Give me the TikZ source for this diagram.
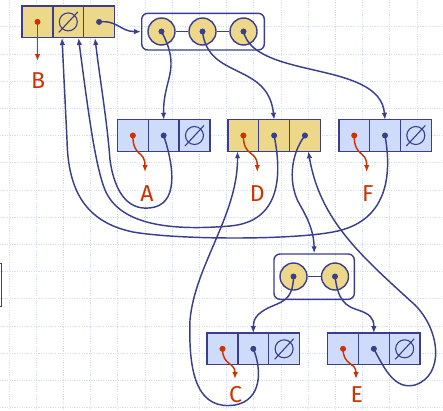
\documentclass[tikz,border=0pt]{standalone}
\usepackage{fontspec}
\setsansfont{Fira Sans}
\usetikzlibrary{arrows.meta}
\definecolor{inkblue}{RGB}{58,62,140}
\definecolor{keyred}{RGB}{204,51,0}
\definecolor{cellyellow}{RGB}{236,216,136}
\definecolor{cellblue}{RGB}{206,219,250}
\definecolor{gridblue}{RGB}{212,222,246}
\begin{document}
\begin{tikzpicture}[x=1pt,y=-1pt,
  cell/.style={rectangle, draw=inkblue, line width=1.4pt, minimum width=30.8pt,
    minimum height=31.5pt, inner sep=0pt, outer sep=0pt},
  ycell/.style={cell, fill=cellyellow},
  bcell/.style={cell, fill=cellblue},
  ptr/.style={circle, fill=inkblue, inner sep=0pt, minimum size=5.6pt},
  rptr/.style={ptr, fill=keyred},
  slot/.style={circle, draw=inkblue, fill=cellyellow, line width=1.4pt,
    minimum size=27pt, inner sep=0pt},
  holder/.style={rectangle, draw=inkblue, line width=1.4pt, rounded corners=6pt,
    inner sep=0pt},
  rail/.style={draw=inkblue, line width=1.4pt},
  link/.style={draw=inkblue, line width=1.45pt, -{Latex[length=7pt,width=5.5pt]}},
  keylink/.style={draw=keyred, line width=1.45pt, -{Latex[length=7pt,width=5.5pt]}},
  lbl/.style={text=keyred, font=\sffamily\fontsize{23}{27}\selectfont, anchor=base,
    inner sep=0pt},
  gridline/.style={gridblue, line width=0.8pt, dash pattern=on 1.2pt off 1.2pt},
  nullset/.pic={\draw[inkblue, line width=1.1pt] (0,0) circle (9pt)
    (-9.5pt,-10.5pt) -- (9.5pt,10pt);}
]
\useasboundingbox (0,0) rectangle (443,410);
\clip (0,0) rectangle (443,410);
\fill[white] (0,0) rectangle (443,410);

% background grid
\foreach \k in {0,...,16} \draw[gridline] (9+27.2*\k,0) -- (9+27.2*\k,410);
\foreach \k in {1,...,15} \draw[gridline] (0,-0.5+27.2*\k) -- (443,-0.5+27.2*\k);

% box cut off at the left edge
\draw[rail] (-20,263.5) rectangle (1.4,306.5);

% array of three slots
\node[holder, minimum width=122.6pt, minimum height=36.7pt] (T) at (203,31.65) {};
\node[slot] (T1) at (161.5,31.5) {};
\node[slot] (T2) at (202.5,31.5) {};
\node[slot] (T3) at (243.5,31.5) {};
\draw[rail] (T1) -- (T2) (T2) -- (T3);

% array of two slots
\node[holder, minimum width=80.3pt, minimum height=45.3pt] (S) at (314.15,276.65) {};
\node[slot] (S1) at (293.5,276.5) {};
\node[slot] (S2) at (335,276.5) {};
\draw[rail] (S1) -- (S2);

% list cells
\node[ycell] (B1) at (37.5,21.9) {};
\node[ycell] (B2) at (68.3,21.9) {};
\node[ycell] (B3) at (99.1,21.9) {};

\node[bcell] (A1) at (132.85,135.5) {};
\node[bcell] (A2) at (163.65,135.5) {};
\node[bcell] (A3) at (194.45,135.5) {};

\node[ycell] (D1) at (243.35,135.5) {};
\node[ycell] (D2) at (274.15,135.5) {};
\node[ycell] (D3) at (304.95,135.5) {};

\node[bcell] (F1) at (354.2,135.5) {};
\node[bcell] (F2) at (385,135.5) {};
\node[bcell] (F3) at (415.8,135.5) {};

\node[bcell] (C1) at (222.5,348.8) {};
\node[bcell] (C2) at (253.3,348.8) {};
\node[bcell] (C3) at (284.1,348.8) {};

\node[bcell] (E1) at (343.05,348.8) {};
\node[bcell] (E2) at (373.85,348.8) {};
\node[bcell] (E3) at (404.65,348.8) {};

% null pointers
\pic at (B2) {nullset};
\pic at (A3) {nullset};
\pic at (F3) {nullset};
\pic at (C3) {nullset};
\pic at (E3) {nullset};

% labels
\node[lbl] (lB) at (38,88.5) {B};
\node[lbl] (lA) at (147,201) {A};
\node[lbl] (lD) at (257.3,201) {D};
\node[lbl] (lF) at (367.8,201) {F};
\node[lbl] (lC) at (235.5,402) {C};
\node[lbl] (lE) at (356.7,402) {E};

% arrow ends
\coordinate (Bin1) at (62,38);
\coordinate (Bin2) at (78.5,38);
\coordinate (Bin3) at (95,38);
\coordinate (Din1) at (237.5,151.2);
\coordinate (Din3) at (308.3,151.2);
\coordinate (kB) at (37.5,61);
\coordinate (kA) at (145,172);
\coordinate (kD) at (257.3,172);
\coordinate (kF) at (366.7,172);
\coordinate (kC) at (235,379);
\coordinate (kE) at (356,379);

% pointer dots
\foreach \n in {B3,A2,D2,D3,F2,C2,E2,T1,T2,T3,S1,S2} \node[ptr] (p\n) at (\n) {};
\foreach \n in {B1,A1,D1,F1,C1,E1} \node[rptr] (p\n) at (\n) {};

% pointers
\draw[link] (pB3.center) .. controls (118,20) and (120,31.5) .. (T.west);
\draw[link] (pT1.center) .. controls (182,70) and (163,78) .. (A2.north);
\draw[link] (pT2.center) .. controls (208,80) and (268,62) .. (D2.north);
\draw[link] (pT3.center) .. controls (255,80) and (380,60) .. (F2.north);
\draw[link] (pA2.center) .. controls (172,160) and (180,200) .. (155,207)
  .. controls (130,213) and (115,195) .. (110,160)
  .. controls (107,120) and (100,80) .. (Bin3);
\draw[link] (pD2.center) .. controls (284,185) and (275,222) .. (230,226)
  .. controls (170,231) and (120,225) .. (105,190)
  .. controls (95,165) and (88,110) .. (Bin2);
\draw[link] (pF2.center) .. controls (392,175) and (388,222) .. (333,232)
  .. controls (290,240) and (180,240) .. (133,232)
  .. controls (85,222) and (68,190) .. (67,140) -- (Bin1);
\draw[link] (pC2.center) .. controls (262,370) and (262,400) .. (235,405)
  .. controls (200,410) and (188,380) .. (190,320)
  .. controls (195,265) and (238,215) .. (Din1);
\draw[link] (pD3.center) .. controls (290,155) and (288,185) .. (300,205)
  .. controls (310,222) and (314,235) .. (S.north);
\draw[link] (pE2.center) .. controls (385,370) and (395,390) .. (415,385)
  .. controls (445,375) and (440,330) .. (415,305)
  .. controls (360,255) and (320,220) .. (Din3);
\draw[link] (pS1.center) .. controls (293,302) and (280,302) .. (268,308)
  .. controls (256,314) and (253.3,320) .. (C2.north);
\draw[link] (pS2.center) .. controls (338,300) and (345,306) .. (358,310)
  .. controls (370,314) and (373.85,318) .. (E2.north);

% keys
\draw[keylink] (pB1.center) -- (kB);
\draw[keylink] (pA1.center) .. controls +(0,22) and +(0,-22) .. (kA);
\draw[keylink] (pD1.center) .. controls +(0,22) and +(0,-22) .. (kD);
\draw[keylink] (pF1.center) .. controls +(0,22) and +(0,-22) .. (kF);
\draw[keylink] (pC1.center) .. controls +(0,17) and +(0,-17) .. (kC);
\draw[keylink] (pE1.center) .. controls +(0,17) and +(0,-17) .. (kE);

% dots drawn again on top of the lines
\foreach \n in {B3,A2,D2,D3,F2,C2,E2,T1,T2,T3,S1,S2} \fill[inkblue] (\n) circle (2.9pt);
\foreach \n in {B1,A1,D1,F1,C1,E1} \fill[keyred] (\n) circle (2.9pt);
\end{tikzpicture}
\end{document}
